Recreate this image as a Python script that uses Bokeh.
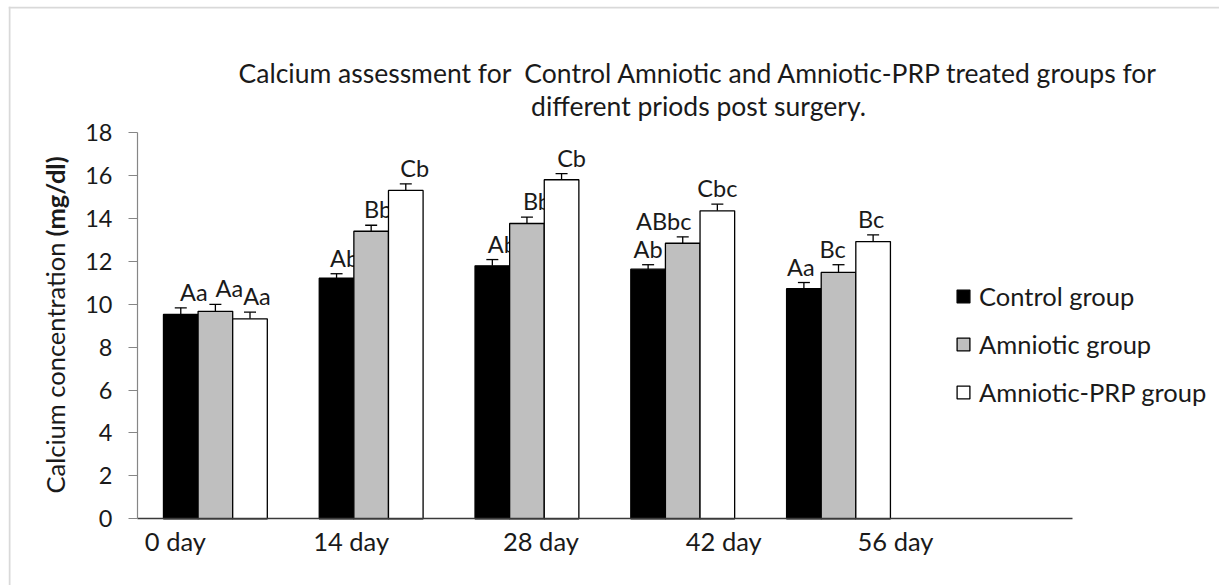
import numpy as np
from bokeh.plotting import figure
from bokeh.models import (ColumnDataSource, Range1d, Whisker, TeeHead, Legend,
                          LegendItem, Label, FixedTicker, LinearAxis, Span)
from bokeh.core.properties import value
from bokeh.embed import file_html
from bokeh.resources import INLINE

# ---------------- data ----------------
days = ["0 day", "14 day", "28 day", "42 day", "56 day"]
groups = ["Control group", "Amniotic group", "Amniotic-PRP group"]
control = [9.52, 11.21, 11.79, 11.63, 10.72]
amniotic = [9.67, 13.40, 13.76, 12.84, 11.48]
prp = [9.32, 15.30, 15.80, 14.35, 12.92]
control_err = [0.31, 0.21, 0.29, 0.21, 0.29]
amniotic_err = [0.32, 0.28, 0.30, 0.30, 0.36]
prp_err = [0.31, 0.31, 0.28, 0.31, 0.31]
control_sig = ["Aa", "Ab", "Ab", "Ab", "Aa"]
amniotic_sig = ["Aa", "Bb", "Bb", "ABbc", "Bc"]
prp_sig = ["Aa", "Cb", "Cb", "Cbc", "Bc"]
y_ticks = [0, 2, 4, 6, 8, 10, 12, 14, 16, 18]
title_lines = ["Calcium assessment for\u00a0 Control Amniotic and Amniotic-PRP treated groups for",
               "different priods post surgery."]
y_label_plain = "Calcium concentration"
y_label_bold = "(mg/dl)"

# ---------------- style / layout ----------------
FONT = "Lato"
TXT = "#1a1a1a"
fills = ["#000000", "#bfbfbf", "#ffffff"]
bar_w = 0.2222
dodges = [-bar_w, 0.0, bar_w]
n_slots = 6
sig_dx = [[13, 8, 10, 0, -3], [14, 7, 10, -19, -6], [7, 9, 10, 0, -2]]
day_dx = [-40, -20, 14, 41, 57]

W, H = 1219, 585
FL, FT = 8, 6                 # frame (= bordered chart area) left / top
X0, PX_X = 137, 155.78        # pixel of x=0, pixels per slot
Y0, PX_Y = 518.3, 21.46       # pixel of y=0, pixels per unit

x_rng = Range1d(-(X0 - FL) / PX_X, (W - X0) / PX_X)
y_rng = Range1d(-(H - Y0) / PX_Y, (Y0 - FT) / PX_Y)

p = figure(width=W, height=H, output_backend="svg", toolbar_location=None,
           x_range=x_rng, y_range=y_rng, x_axis_type=None, y_axis_type=None,
           min_border_left=FL, min_border_right=0, min_border_top=FT,
           min_border_bottom=0, tools="")
p.outline_line_color = None
p.grid.visible = False
p.background_fill_color = "white"
p.border_fill_color = "white"

# light grey chart border (top and left edges are visible in the original)
p.add_layout(Span(location=1, location_units="screen", dimension="height",
                  line_color="#d9d9d9", line_width=2))
p.add_layout(Span(location=H - FT - 1, location_units="screen", dimension="width",
                  line_color="#d9d9d9", line_width=2))

yax = LinearAxis(fixed_location=0, bounds=(0, 18), ticker=FixedTicker(ticks=y_ticks))
yax.minor_tick_line_color = None
yax.major_tick_in = 0
yax.major_tick_out = 9
yax.axis_line_color = "#868686"
yax.major_tick_line_color = "#868686"
yax.axis_line_width = 1.2
yax.major_label_standoff = 16
yax.major_label_text_font = FONT
yax.major_label_text_font_size = "23.5px"
yax.major_label_text_color = TXT
p.add_layout(yax, "left")

xax = LinearAxis(fixed_location=0, bounds=(0, n_slots), ticker=FixedTicker(ticks=[]))
xax.minor_tick_line_color = None
xax.major_tick_line_color = None
xax.axis_line_color = "#3a3a3a"
xax.axis_line_width = 1.5
xax.major_label_text_font_size = "0px"
p.add_layout(xax, "below")

idx = np.arange(len(days)) + 0.5
series = [control, amniotic, prp]
errs = [control_err, amniotic_err, prp_err]
sigs = [control_sig, amniotic_sig, prp_sig]

items = []
for k in range(3):
    top = np.array(series[k])
    err = np.array(errs[k])
    src = ColumnDataSource(dict(x=idx + dodges[k], top=top, upper=top + err,
                                sig=sigs[k], dx=sig_dx[k]))
    r = p.vbar(x="x", top="top", bottom=0, width=bar_w, source=src,
               fill_color=fills[k], line_color="black", line_width=1.3)
    items.append(LegendItem(label=groups[k], renderers=[r]))
    wk = Whisker(source=src, base="x", lower="top", upper="upper",
                 line_color="black", line_width=1.3,
                 upper_head=TeeHead(size=12, line_color="black", line_width=1.3),
                 lower_head=None)
    p.add_layout(wk)
    p.text(x="x", y="upper", text="sig", source=src, x_offset="dx", y_offset=-2,
           text_align="center", text_baseline="bottom",
           text_font=value(FONT), text_font_size="23.5px", text_color=TXT)

# day labels under the axis
dsrc = ColumnDataSource(dict(x=idx, y=np.zeros(len(days)), t=days, dx=day_dx))
p.text(x="x", y="y", text="t", source=dsrc, x_offset="dx", y_offset=22,
       text_align="center", text_baseline="middle",
       text_font=value(FONT), text_font_size="25.5px", text_color=TXT)

legend = Legend(items=items, location=(947, 178), orientation="vertical",
                glyph_width=16, glyph_height=16, label_standoff=8, spacing=18,
                padding=0, margin=0, border_line_color=None,
                background_fill_alpha=0, label_text_font=FONT,
                label_text_font_size="25.5px", label_text_color=TXT)
p.add_layout(legend)

# title (two centered lines), screen units relative to the chart area
for t, yy in zip(title_lines, [513, 480]):
    p.add_layout(Label(x=690, y=yy, x_units="screen", y_units="screen", text=t,
                       text_align="center", text_baseline="middle",
                       text_font=FONT, text_font_size="26.5px", text_color=TXT))

# y axis label with bold unit
p.add_layout(Label(x=46, y=343, x_units="screen", y_units="screen",
                   text=y_label_plain, angle=np.pi / 2, text_align="right",
                   text_baseline="middle", text_font=FONT, text_font_size="25.5px",
                   text_color=TXT))
p.add_layout(Label(x=46, y=349, x_units="screen", y_units="screen",
                   text=y_label_bold, angle=np.pi / 2, text_align="left",
                   text_baseline="middle", text_font=FONT, text_font_size="25.5px",
                   text_font_style="bold", text_color=TXT))

open("out.html", "w").write(file_html(p, INLINE))
